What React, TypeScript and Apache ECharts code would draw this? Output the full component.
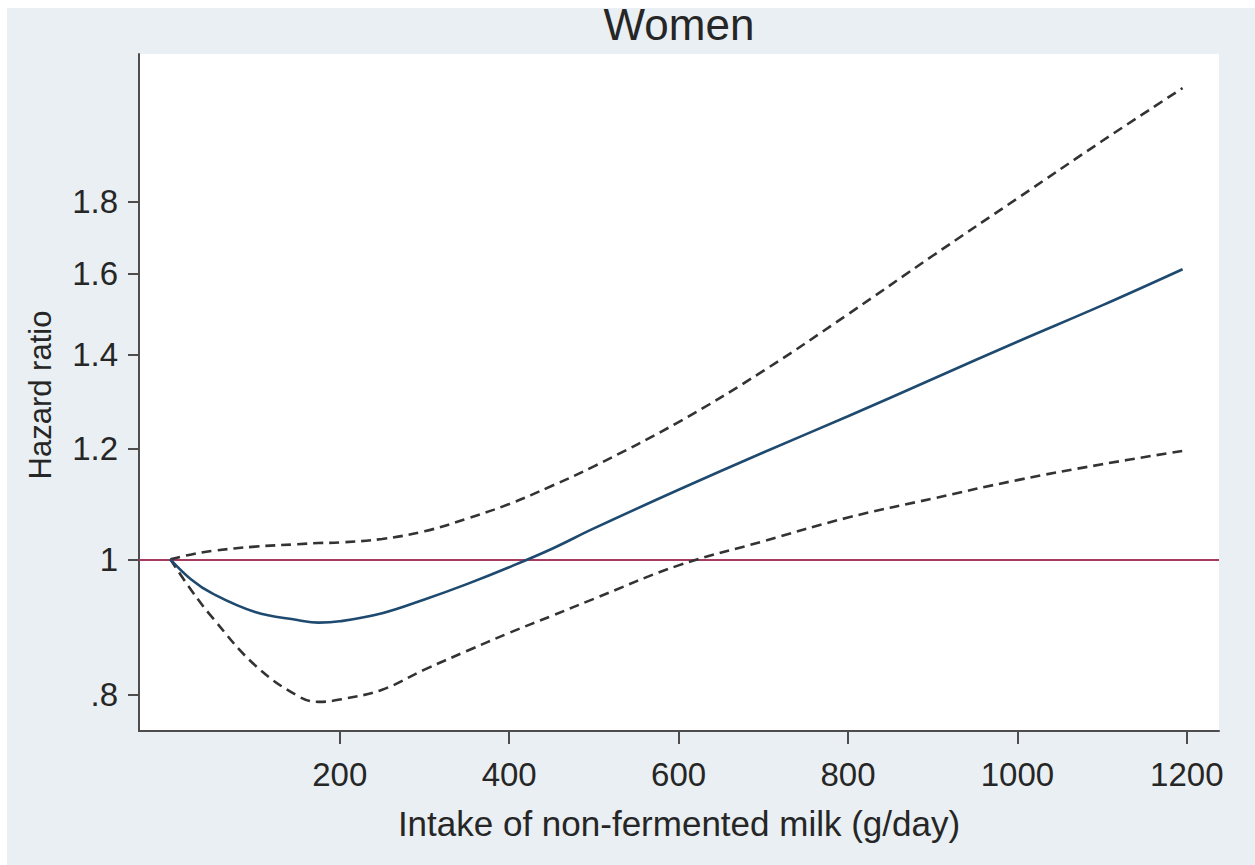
import React, { useEffect, useRef } from "react";
import * as echarts from "echarts";

// Intake of non-fermented milk (g/day)
const intake = [0, 25, 50, 100, 150, 175, 200, 250, 300, 350, 400, 450, 500, 600, 700, 800, 900, 1000, 1100, 1195];
// Hazard ratio estimate and 95% CI bounds
const hazard = [1.0, 0.967, 0.945, 0.917, 0.905, 0.901, 0.903, 0.915, 0.936, 0.96, 0.987, 1.017, 1.052, 1.121, 1.192, 1.265, 1.345, 1.43, 1.518, 1.611];
const upperCI = [1.0, 1.008, 1.014, 1.021, 1.025, 1.027, 1.028, 1.034, 1.047, 1.069, 1.095, 1.128, 1.165, 1.253, 1.363, 1.496, 1.647, 1.81, 1.989, 2.17];
const lowerCI = [1.0, 0.95, 0.908, 0.84, 0.799, 0.791, 0.794, 0.807, 0.834, 0.86, 0.886, 0.911, 0.937, 0.99, 1.03, 1.071, 1.105, 1.139, 1.169, 1.195];

const xTicks = [200, 400, 600, 800, 1000, 1200];
const yTicks = [0.8, 1, 1.2, 1.4, 1.6, 1.8];
const referenceHR = 1;

const xMin = -37;
const xMax = 1238;
const yMinHR = 0.754;
const yMaxHR = 2.295;

const FONT = "'Liberation Sans', Arial, Helvetica, sans-serif";

function toPairs(vals: number[]) {
  return intake.map((x, i) => [x, Math.log(vals[i])]);
}

function fmtHR(v: number) {
  const r = Math.round(Math.exp(v) * 10) / 10;
  let s = String(r);
  if (s.startsWith("0.")) s = s.slice(1);
  return s;
}

export default function App() {
  const ref = useRef<HTMLDivElement>(null);
  useEffect(() => {
    if (!ref.current) return;
    const chart = echarts.init(ref.current, null, { renderer: "svg" });
    const axisColor = "#4d4d4d";
    const textColor = "#262626";
    const dashed = { color: "#333333", width: 2.6, type: [10, 6] };
    chart.setOption({
      animation: false,
      backgroundColor: "#e9eff2",
      graphic: [
        { type: "rect", shape: { x: 0, y: 0, width: 1255, height: 8 }, style: { fill: "#ffffff" }, z: 100 },
        { type: "rect", shape: { x: 0, y: 0, width: 7, height: 865 }, style: { fill: "#ffffff" }, z: 100 },
        {
          type: "text",
          x: 679,
          y: 24,
          style: { text: "Women", font: `44px ${FONT}`, fill: textColor, align: "center", verticalAlign: "middle" },
        },
        {
          type: "text",
          x: 679,
          y: 823,
          style: {
            text: "Intake of non-fermented milk (g/day)",
            font: `35px ${FONT}`,
            fill: textColor,
            align: "center",
            verticalAlign: "middle",
          },
        },
        {
          type: "text",
          x: 40,
          y: 395,
          rotation: Math.PI / 2,
          style: { text: "Hazard ratio", font: `31px ${FONT}`, fill: textColor, align: "center", verticalAlign: "middle" },
        },
      ],
      grid: {
        left: 139,
        top: 54,
        right: 36,
        bottom: 134,
        show: true,
        backgroundColor: "#ffffff",
        borderWidth: 0,
      },
      xAxis: {
        type: "value",
        min: xMin,
        max: xMax,
        axisLine: { show: true, onZero: false, lineStyle: { color: axisColor, width: 2 } },
        axisTick: { show: true, length: 13, customValues: xTicks, lineStyle: { color: axisColor, width: 2 } },
        axisLabel: {
          customValues: xTicks,
          formatter: (v: number) => String(Math.round(v)),
          fontSize: 33,
          fontFamily: FONT,
          color: textColor,
          margin: 27,
        },
        splitLine: { show: false },
      },
      yAxis: {
        type: "value",
        min: Math.log(yMinHR),
        max: Math.log(yMaxHR),
        axisLine: { show: true, onZero: false, lineStyle: { color: axisColor, width: 2 } },
        axisTick: { show: true, length: 11, customValues: yTicks.map(Math.log), lineStyle: { color: axisColor, width: 2 } },
        axisLabel: {
          customValues: yTicks.map(Math.log),
          formatter: (v: number) => fmtHR(v),
          fontSize: 33,
          fontFamily: FONT,
          color: textColor,
          margin: 21,
        },
        splitLine: { show: false },
      },
      series: [
        {
          type: "line",
          name: "Hazard ratio",
          data: toPairs(hazard),
          showSymbol: false,
          smooth: 0.4,
          lineStyle: { color: "#1f4a70", width: 2.6 },
          z: 4,
          markLine: {
            silent: true,
            symbol: "none",
            label: { show: false },
            lineStyle: { color: "#a63d60", width: 2, type: "solid" },
            data: [{ yAxis: Math.log(referenceHR) }],
            z: 2,
          },
        },
        {
          type: "line",
          name: "Upper 95% CI",
          data: toPairs(upperCI),
          showSymbol: false,
          smooth: 0.4,
          lineStyle: dashed,
          z: 3,
        },
        {
          type: "line",
          name: "Lower 95% CI",
          data: toPairs(lowerCI),
          showSymbol: false,
          smooth: 0.4,
          lineStyle: dashed,
          z: 3,
        },
      ],
    });
    return () => chart.dispose();
  }, []);
  return (
    <div
      ref={ref}
      style={{ position: "fixed", left: 0, top: 0, width: 1255, height: 865 }}
    />
  );
}
